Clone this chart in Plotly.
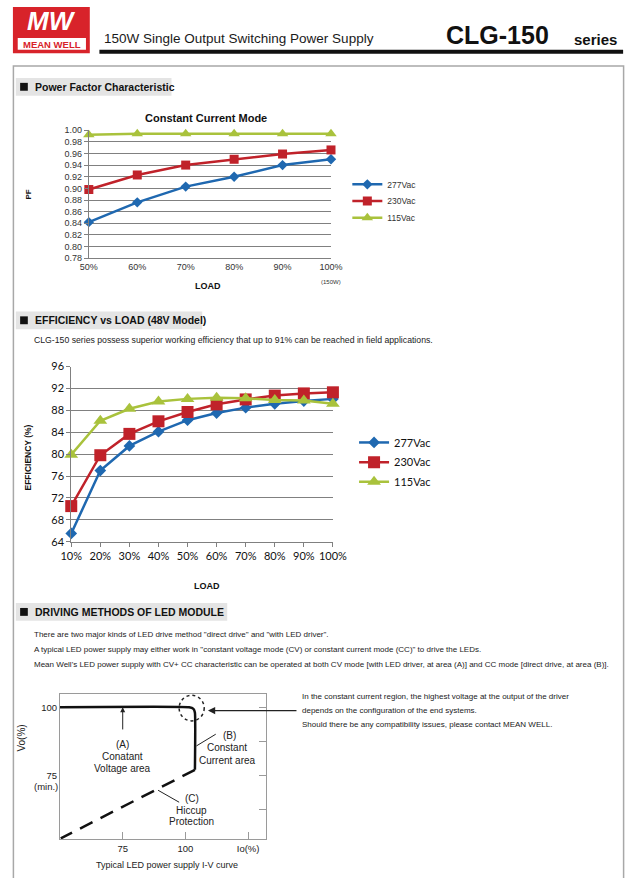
import plotly.graph_objects as go

# ---------------- data ----------------
pf_load_labels = ["50%", "60%", "70%", "80%", "90%", "100%"]
pf_277 = [0.842, 0.876, 0.903, 0.920, 0.940, 0.950]
pf_230 = [0.898, 0.923, 0.940, 0.950, 0.959, 0.966]
pf_115 = [0.992, 0.994, 0.994, 0.994, 0.994, 0.994]
pf_tick_vals = [0.78, 0.80, 0.82, 0.84, 0.86, 0.88, 0.90, 0.92, 0.94, 0.96, 0.98, 1.00]
pf_tick_text = ["0.78", "0.80", "0.82", "0.84", "0.86", "0.88", "0.90", "0.92", "0.94", "0.96", "0.98", "1.00"]

eff_load_labels = ["10%", "20%", "30%", "40%", "50%", "60%", "70%", "80%", "90%", "100%"]
eff_277 = [65.5, 77.0, 81.5, 84.1, 86.2, 87.5, 88.5, 89.2, 89.7, 90.1]
eff_230 = [70.5, 79.8, 83.7, 86.0, 87.7, 89.1, 90.0, 90.7, 91.1, 91.3]
eff_115 = [79.9, 86.1, 88.3, 89.6, 90.1, 90.3, 90.2, 89.9, 89.8, 89.2]
eff_tick_vals = [64, 68, 72, 76, 80, 84, 88, 92, 96]

series_names = ["277Vac", "230Vac", "115Vac"]
series_colors = ["#1F68B0", "#C0222A", "#A9C23C"]

# I-V curve (illustrative diagram)
iv_cv_io = [50, 101.5, 103.2, 103.8, 103.8]
iv_cv_vo = [100, 100, 99.4, 98.0, 77.0]
iv_hic_io = [103.8, 50.3]
iv_hic_vo = [77.0, 51.8]
iv_x_ticks = [75, 100, 125]
iv_x_text = ["75", "100", "Io(%)"]
iv_y_ticks = [100, 75]
iv_y_text = ["100", "75"]
iv_right_ticks = [62.5, 75, 87.5, 100]

# ---------------- helpers ----------------
W, H = 640, 878
def px(x):
    return x / W
def py(y):
    return 1 - y / H

SANS = "Liberation Sans, Arial, sans-serif"
CAL = "Lato, Carlito, Calibri, sans-serif"

fig = go.Figure()

# ---------------- PF chart ----------------
pf_series = [pf_277, pf_230, pf_115]
symbols = ["diamond", "square", "triangle-up"]
pf_sizes = [8, 9, 10]
for i, (name, vals) in enumerate(zip(series_names, pf_series)):
    fig.add_trace(go.Scatter(
        x=list(range(len(pf_load_labels))), y=vals, name=name, mode="lines+markers",
        line=dict(color=series_colors[i], width=2.5),
        marker=dict(symbol=symbols[i], size=pf_sizes[i], color=series_colors[i]),
        xaxis="x", yaxis="y", cliponaxis=False,
        legend="legend" if i == 0 else "legend%d" % (i + 1),
    ))

# ---------------- Efficiency chart ----------------
eff_series = [eff_277, eff_230, eff_115]
eff_sizes = [9, 12, 12]
for i, (name, vals) in enumerate(zip(series_names, eff_series)):
    fig.add_trace(go.Scatter(
        x=list(range(len(eff_load_labels))), y=vals, name=name, mode="lines+markers",
        line=dict(color=series_colors[i], width=2.5),
        marker=dict(symbol=symbols[i], size=eff_sizes[i], color=series_colors[i]),
        xaxis="x2", yaxis="y2", cliponaxis=False,
        legend="legend%d" % (i + 4),
    ))

# ---------------- I-V curve ----------------
fig.add_trace(go.Scatter(x=iv_cv_io, y=iv_cv_vo, mode="lines", showlegend=False,
                         line=dict(color="#111", width=2.5, shape="spline", smoothing=0.4),
                         xaxis="x3", yaxis="y3", hoverinfo="skip"))
fig.add_trace(go.Scatter(x=iv_hic_io, y=iv_hic_vo, mode="lines", showlegend=False,
                         line=dict(color="#111", width=2.5, dash="14px,9px"),
                         xaxis="x3", yaxis="y4", hoverinfo="skip"))

grid_c = "#808080"
fig.update_layout(
    width=W, height=H, margin=dict(l=0, r=0, t=0, b=0),
    paper_bgcolor="white", plot_bgcolor="rgba(0,0,0,0)",
    showlegend=True,
    xaxis=dict(domain=[px(81), px(333)], range=[0, 5], anchor="y",
               tickvals=list(range(len(pf_load_labels))), ticktext=pf_load_labels,
               showgrid=False, zeroline=False, showline=True, linecolor=grid_c, linewidth=1,
               ticks="", tickfont=dict(family=SANS, size=9, color="#333")),
    yaxis=dict(domain=[py(255), py(125)], range=[0.78, 1.0], anchor="x",
               tickvals=pf_tick_vals, ticktext=pf_tick_text,
               showgrid=True, gridcolor=grid_c, gridwidth=1, zeroline=False,
               showline=True, linecolor=grid_c, ticks="outside", ticklen=4, tickcolor=grid_c,
               tickfont=dict(family=SANS, size=9, color="#333")),
    xaxis2=dict(domain=[px(62.7), px(335)], range=[0, 9], anchor="y2",
                tickvals=list(range(len(eff_load_labels))), ticktext=eff_load_labels,
                showgrid=False, zeroline=False, showline=True, linecolor=grid_c,
                ticks="outside", ticklen=4, tickcolor=grid_c,
                tickfont=dict(family=CAL, size=11, color="#111")),
    yaxis2=dict(domain=[py(542.7), py(365)], range=[64, 96], anchor="x2",
                tickvals=eff_tick_vals,
                showgrid=True, gridcolor=grid_c, gridwidth=1, zeroline=False,
                showline=True, linecolor=grid_c, ticks="outside", ticklen=4, tickcolor=grid_c,
                tickfont=dict(family=CAL, size=11, color="#111")),
    xaxis3=dict(domain=[px(51), px(265)], range=[50, 132], anchor="y3",
                tickvals=iv_x_ticks, ticktext=iv_x_text, showgrid=False, zeroline=False,
                showline=True, mirror=True, linecolor="#9a9a9a", linewidth=1,
                ticks="inside", ticklen=7, tickcolor="#9a9a9a",
                tickfont=dict(family=SANS, size=9.5, color="#222")),
    yaxis3=dict(domain=[py(845), py(697)], range=[51.4, 105], anchor="x3",
                tickvals=iv_y_ticks, ticktext=iv_y_text, showgrid=False, zeroline=False,
                showline=True, mirror=True, linecolor="#9a9a9a", linewidth=1, ticks="",
                tickfont=dict(family=SANS, size=9.5, color="#222")),
    yaxis4=dict(range=[51.4, 105], anchor="x3", overlaying="y3", side="right",
                tickvals=iv_right_ticks, showticklabels=False, showgrid=False, zeroline=False,
                showline=False, ticks="inside", ticklen=7, tickcolor="#9a9a9a"),
)

# legends (one per item so spacing matches)
pf_leg_y = [180, 197, 214]
eff_leg_y = [442, 462, 482]
for i in range(3):
    key = "legend" if i == 0 else "legend%d" % (i + 1)
    fig.update_layout({key: dict(x=px(350), y=py(pf_leg_y[i]), xanchor="left", yanchor="middle",
                                 bgcolor="rgba(0,0,0,0)", itemwidth=30,
                                 font=dict(family=SANS, size=8.5, color="#333"))})
    key2 = "legend%d" % (i + 4)
    fig.update_layout({key2: dict(x=px(357), y=py(eff_leg_y[i]), xanchor="left", yanchor="middle",
                                  bgcolor="rgba(0,0,0,0)", itemwidth=30,
                                  font=dict(family=CAL, size=11, color="#111"))})

shapes = []
annos = []

def text(x, y, s, size, family=SANS, color="#111", xanchor="center", bold=False, angle=0, italic=False):
    t = s
    if bold:
        t = "<b>%s</b>" % t
    if italic:
        t = "<i>%s</i>" % t
    annos.append(dict(x=px(x), y=py(y), xref="paper", yref="paper", text=t, showarrow=False,
                      xanchor=xanchor, yanchor="middle", textangle=angle,
                      font=dict(family=family, size=size, color=color)))

# page frame
shapes.append(dict(type="rect", xref="paper", yref="paper", x0=px(2.5), x1=px(637.5),
                   y0=py(900), y1=py(60), line=dict(color="#a8a8a8", width=1.5)))

# header: logo
shapes.append(dict(type="rect", xref="paper", yref="paper", x0=px(2), x1=px(82), y0=py(47), y1=py(0),
                   fillcolor="#D8232A", line=dict(width=0)))
shapes.append(dict(type="rect", xref="paper", yref="paper", x0=px(7), x1=px(78), y0=py(43.5), y1=py(31.5),
                   fillcolor="white", line=dict(width=0)))
text(42, 14, "MW", 26, family=SANS, color="white", bold=True, italic=True)
text(42.5, 38, "MEAN WELL", 9.5, family=SANS, color="#D8232A", bold=True)
text(95, 32, "150W Single Output Switching Power Supply", 13.5, family=SANS, color="#1a1a1a", xanchor="left")
text(451, 28, "CLG-150", 25, family=SANS, color="#111", xanchor="left", bold=True)
text(584, 33, "series", 15, family=SANS, color="#111", xanchor="left", bold=True)
shapes.append(dict(type="line", xref="paper", yref="paper", x0=px(92), x1=px(637), y0=py(45.5), y1=py(45.5),
                   line=dict(color="#111", width=4)))

# section headers
def section(y0, y1, x1, label):
    shapes.append(dict(type="rect", xref="paper", yref="paper", x0=px(5), x1=px(x1), y0=py(y1), y1=py(y0),
                       fillcolor="#e4e4e4", line=dict(width=0)))
    cy = (y0 + y1) / 2
    shapes.append(dict(type="rect", xref="paper", yref="paper", x0=px(9.5), x1=px(17.5),
                       y0=py(cy + 4), y1=py(cy - 4), fillcolor="#111", line=dict(width=0)))
    text(22.5, cy, label, 10.5, family=SANS, color="#111", xanchor="left", bold=True)

section(72, 90, 167, "Power Factor Characteristic")
section(309, 327, 199, "EFFICIENCY vs LOAD (48V Model)")
section(605, 623, 225, "DRIVING METHODS OF LED MODULE")

# PF chart labels
text(203, 113, "Constant Current Mode", 11, family=SANS, bold=True)
text(18, 190, "PF", 8, family=SANS, bold=True, angle=-90)
text(205, 283, "LOAD", 9, family=SANS, bold=True)
text(333, 279, "(150W)", 6, family=SANS, color="#333")

# Efficiency chart labels
text(22, 338, "CLG-150 series possess superior working efficiency that up to 91% can be reached in field applications.",
     8.7, family=SANS, color="#222", xanchor="left")
text(18, 457, "EFFICIENCY (%)", 8.5, family=SANS, bold=True, angle=-90)
text(204, 588, "LOAD", 9, family=SANS, bold=True)

# Driving methods text
drive_lines = [
    'There are two major kinds of LED drive method "direct drive" and "with LED driver".',
    'A typical LED power supply may either work in "constant voltage mode (CV) or constant current mode (CC)" to drive the LEDs.',
    "Mean Well's LED power supply with CV+ CC characteristic can be operated at both CV mode [with LED driver, at area (A)] and CC mode [direct drive, at area (B)].",
]
for yy, s in zip([637, 652, 667], drive_lines):
    text(22, yy, s, 8, family=SANS, color="#222", xanchor="left")

right_lines = [
    "In the constant current region, the highest voltage at the output of the driver",
    "depends on the configuration of the end systems.",
    "Should there be any compatibility issues, please contact MEAN WELL.",
]
for yy, s in zip([700, 714, 728], right_lines):
    text(301, yy, s, 8, family=SANS, color="#222", xanchor="left")

# I-V diagram annotations (data coordinates of x3/y3)
def dtext(x, y, s, size=10):
    annos.append(dict(x=x, y=y, xref="x3", yref="y3", text=s, showarrow=False,
                      xanchor="center", yanchor="middle",
                      font=dict(family=SANS, size=size, color="#222")))

dtext(74.9, 86.5, "(A)")
dtext(74.9, 81.8, "Conatant")
dtext(74.9, 77.5, "Voltage area")
dtext(117.4, 89.8, "(B)")
dtext(116.7, 85.1, "Constant")
dtext(116.7, 80.4, "Current area")
dtext(102.5, 66.6, "(C)")
dtext(102.5, 62.2, "Hiccup")
dtext(102.5, 57.9, "Protection")

shapes.append(dict(type="line", xref="x3", yref="y3", x0=104.4, y0=85.8, x1=112.1, y1=90.1,
                   line=dict(color="#222", width=1)))
shapes.append(dict(type="line", xref="x3", yref="y3", x0=89.1, y0=69.5, x1=97.5, y1=65.1,
                   line=dict(color="#222", width=1)))
shapes.append(dict(type="circle", xref="x3", yref="y3", x0=97.5, x1=107.5, y0=95.0, y1=104.4,
                   line=dict(color="#222", width=1.5, dash="dot")))

# arrows
annos.append(dict(x=75, y=100, xref="x3", yref="y3", ax=75, ay=91.3, axref="x3", ayref="y3",
                  showarrow=True, arrowhead=2, arrowsize=1, arrowwidth=1, arrowcolor="#222", text=""))
annos.append(dict(x=109, y=98.8, xref="x3", yref="y3", ax=90, ay=0,
                  showarrow=True, arrowhead=2, arrowsize=1.2, arrowwidth=1.2, arrowcolor="#222", text=""))

text(10, 742, "Vo(%)", 10, family=SANS, color="#222", angle=-90)
text(36, 791, "(min.)", 9.5, family=SANS, color="#222")
text(162, 871, "Typical LED power supply I-V curve", 9, family=SANS, color="#222")

fig.update_layout(shapes=shapes, annotations=annos)
fig.write_html("out.html", config={"displayModeBar": False},
               post_script="document.body.style.margin='0';document.body.style.overflow='hidden';")
